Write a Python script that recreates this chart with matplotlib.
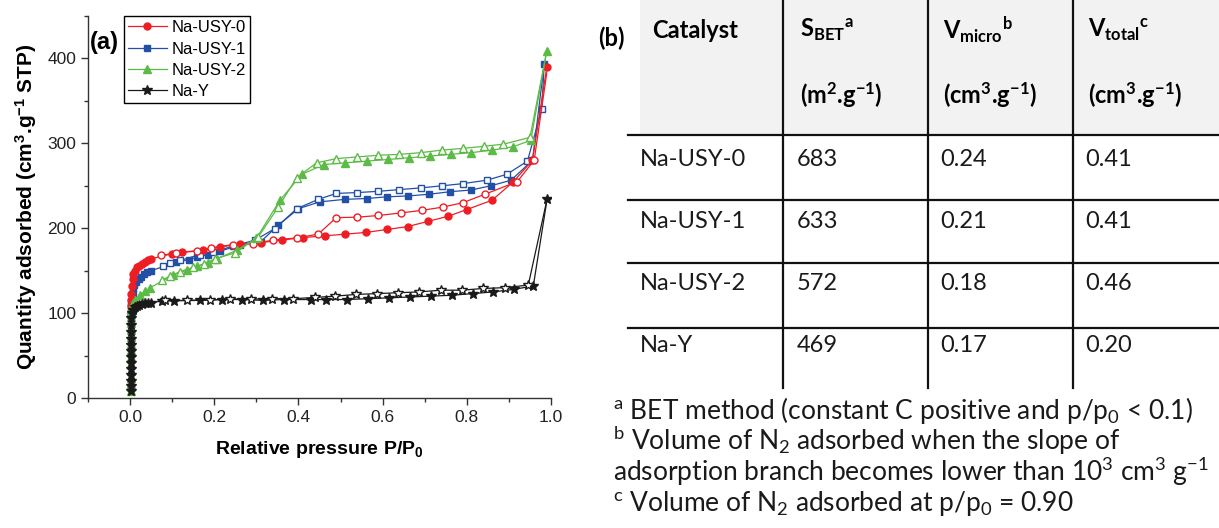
import matplotlib
matplotlib.use('Agg')
import matplotlib.pyplot as plt
from matplotlib.ticker import MultipleLocator
from matplotlib.patches import Rectangle

plt.rcParams['mathtext.default'] = 'regular'

# N2 isotherms: adsorption (filled) and desorption (open)
# Na-USY-0
ads_p0 = [0.001, 0.001, 0.002, 0.003, 0.004, 0.006, 0.008, 0.012, 0.016, 0.022, 0.028, 0.035, 0.042, 0.05,
          0.1, 0.123, 0.174, 0.214, 0.26, 0.31, 0.36, 0.41, 0.463, 0.51, 0.56, 0.61, 0.66, 0.707, 0.755,
          0.80, 0.86, 0.91, 0.956, 0.99]
ads_q0 = [100, 108, 115, 122, 132, 140, 146, 150, 154, 156, 158, 160, 162, 164,
          170, 172, 174, 178, 181, 183, 186, 189, 191, 193, 195, 198.5, 202, 208, 214,
          222, 233, 254.5, 280, 390]
des_p0 = [0.99, 0.96, 0.92, 0.843, 0.79, 0.744, 0.693, 0.643, 0.59, 0.54, 0.49, 0.447, 0.396, 0.34,
          0.293, 0.245, 0.193, 0.158, 0.11, 0.074]
des_q0 = [383, 280, 255, 240, 230, 225, 221, 218, 215, 213, 212.5, 193, 188.6, 186,
          182, 180.8, 177, 173, 171, 168]

# Na-USY-1
ads_p1 = [0.001, 0.001, 0.002, 0.003, 0.004, 0.006, 0.008, 0.01, 0.015, 0.02, 0.026, 0.032, 0.04, 0.05,
          0.11, 0.14, 0.16, 0.186, 0.214, 0.26, 0.31, 0.352, 0.40, 0.45, 0.51, 0.562, 0.61, 0.66, 0.71,
          0.76, 0.81, 0.857, 0.905, 0.956, 0.984]
ads_q1 = [95, 102, 108, 113, 119, 124, 129, 133, 137, 140, 143, 146, 148, 150,
          160, 163, 166, 169, 173, 180, 184, 203.5, 223, 231, 234, 235, 237, 238, 240,
          243, 245, 250, 256.5, 280, 394]
des_p1 = [0.984, 0.978, 0.944, 0.895, 0.847, 0.79, 0.742, 0.69, 0.64, 0.59, 0.54, 0.49, 0.447, 0.396,
          0.344, 0.297, 0.245, 0.198, 0.166, 0.119, 0.095, 0.078]
des_q1 = [394, 340, 279, 263.5, 256.5, 252.5, 250, 247.5, 245.5, 243.5, 242, 241, 234, 223,
          199.6, 186, 179, 172, 169, 162, 159, 156]

# Na-USY-2
ads_p2 = [0.001, 0.001, 0.001, 0.001, 0.001, 0.001, 0.001, 0.001, 0.001, 0.001, 0.0015, 0.002, 0.003,
          0.004, 0.007, 0.012, 0.024, 0.036, 0.048, 0.103, 0.135, 0.158, 0.186, 0.206, 0.253, 0.30,
          0.356, 0.408, 0.46, 0.51, 0.562, 0.613, 0.663, 0.713, 0.762, 0.81, 0.86, 0.91, 0.952, 0.99]
ads_q2 = [8, 16, 24, 32, 40, 48, 56, 64, 72, 80, 88, 96, 103,
          108, 112, 115, 121, 126, 130, 145, 150.6, 155, 159, 164, 174, 188,
          233, 263.5, 275, 277, 279, 281, 283, 285, 287, 289, 292, 296, 303.5, 409]
des_p2 = [0.99, 0.95, 0.887, 0.84, 0.79, 0.74, 0.69, 0.64, 0.59, 0.54, 0.49, 0.443, 0.396, 0.352,
          0.305, 0.25, 0.202, 0.176, 0.15, 0.119, 0.095, 0.075]
des_q2 = [409, 307, 299, 296.5, 294, 292, 289, 287, 286, 284, 282, 277, 259.6, 225,
          190, 171, 164, 158, 154, 149, 143.5, 139]

# Na-Y
ads_p3 = [0.001, 0.001, 0.001, 0.001, 0.001, 0.001, 0.001, 0.001, 0.001, 0.001, 0.001, 0.001,
          0.002, 0.004, 0.008, 0.012, 0.016, 0.02, 0.028, 0.036, 0.043, 0.05, 0.075, 0.105, 0.166,
          0.218, 0.267, 0.315, 0.366, 0.43, 0.465, 0.515, 0.566, 0.616, 0.665, 0.714, 0.764, 0.814,
          0.863, 0.912, 0.958, 0.991]
ads_q3 = [8, 14, 20, 27, 34, 41, 48, 55, 62, 70, 78, 86,
          94, 100, 104, 107, 108.5, 110, 111, 111.5, 112, 112.5, 114, 114.5, 115,
          116, 116, 115, 116, 116, 116, 116, 117, 118, 119, 120, 121, 123,
          125, 128, 132, 235]
des_p3 = [0.991, 0.946, 0.89, 0.838, 0.788, 0.738, 0.687, 0.637, 0.587, 0.537, 0.487, 0.44, 0.388,
          0.337, 0.287, 0.237, 0.19, 0.135, 0.083]
des_q3 = [235, 133, 130, 129, 127, 127, 125, 124, 123, 122, 120, 118.5, 117,
          117, 116.5, 116.5, 115.6, 115, 115]

labels = ['Na-USY-0', 'Na-USY-1', 'Na-USY-2', 'Na-Y']

# table (b)
catalysts = ['Na-USY-0', 'Na-USY-1', 'Na-USY-2', 'Na-Y']
s_bet = ['683', '633', '572', '469']
v_micro = ['0.24', '0.21', '0.18', '0.17']
v_total = ['0.41', '0.41', '0.46', '0.20']

W, H = 1219, 528
fig = plt.figure(figsize=(W / 100, H / 100), dpi=100)

# table first so that it sits behind the plot
tb = fig.add_axes([0, 0, 1, 1])
tb.set_xlim(0, W)
tb.set_ylim(H, 0)
tb.axis('off')
tfont = 'Lato'
tb.add_patch(Rectangle((640, 0), W - 640, 135, color='#f2f2f2', lw=0))
for yy in [135, 200, 263, 328]:
    tb.plot([628, W], [yy, yy], color='#111111', lw=1.6)
for xx in [783, 928, 1073]:
    tb.plot([xx, xx], [0, 388], color='#111111', lw=1.6)
tb.text(598, 38, '(b)', fontsize=17, fontweight='bold', family=tfont, va='center')
head1 = ['Catalyst', 'S$_{BET}$$^{a}$', 'V$_{micro}$$^{b}$', 'V$_{total}$$^{c}$']
head2 = ['', '(m$^2$.g$^{-1}$)', '(cm$^3$.g$^{-1}$)', '(cm$^3$.g$^{-1}$)']
hx = [652, 800, 943, 1088]
for i in range(4):
    tb.text(hx[i], 30, head1[i], fontsize=17, fontweight='bold', family=tfont, va='center')
    tb.text(hx[i], 95, head2[i], fontsize=17, fontweight='bold', family=tfont, va='center')
dx = [640, 797, 940, 1085]
ry = [160, 222, 284, 346]
for r in range(4):
    row = [catalysts[r], s_bet[r], v_micro[r], v_total[r]]
    for i in range(4):
        tb.text(dx[i], ry[r], row[i], fontsize=17, family=tfont, va='center', color='#1a1a1a')
notes = ['$^{a}$ BET method (constant C positive and p/p$_0$ < 0.1)',
         '$^{b}$ Volume of N$_2$ adsorbed when the slope of',
         'adsorption branch becomes lower than 10$^3$ cm$^3$ g$^{-1}$',
         '$^{c}$ Volume of N$_2$ adsorbed at p/p$_0$ = 0.90']
for k, s in enumerate(notes):
    tb.text(613, 410 + k * 31, s, fontsize=19, family=tfont, va='center', color='#1a1a1a')

# isotherm plot (a)
afont = 'Liberation Sans'
ax = fig.add_axes([88 / W, (H - 398) / H, (551 - 88) / W, (398 - 16) / H])
ax.patch.set_alpha(0)
series = [
    (ads_p0, ads_q0, des_p0, des_q0, '#ee1d24', 'o', 5.0, 4),
    (ads_p1, ads_q1, des_p1, des_q1, '#2150a6', 's', 5.0, 3),
    (ads_p2, ads_q2, des_p2, des_q2, '#5cbb46', '^', 6.0, 5),
    (ads_p3, ads_q3, des_p3, des_q3, '#1a1a1a', '*', 7.0, 6),
]
handles = []
for (ap, aq, dp, dq, c, m, ms, z) in series:
    h, = ax.plot(ap, aq, color=c, marker=m, ms=ms, lw=0.9, mfc=c, mec=c, zorder=z)
    # first desorption point is the shared top point, keep it filled
    ax.plot(dp, dq, color=c, marker=m, ms=ms, lw=0.9, mfc='white', mec=c, mew=1.0, zorder=z,
            markevery=slice(1, None))
    handles.append(h)

ax.set_xlim(-0.1, 1.0)
ax.set_ylim(0, 450)
ax.xaxis.set_major_locator(MultipleLocator(0.2))
ax.xaxis.set_minor_locator(MultipleLocator(0.1))
ax.yaxis.set_major_locator(MultipleLocator(100))
ax.yaxis.set_minor_locator(MultipleLocator(50))
ax.spines['top'].set_visible(False)
ax.spines['right'].set_visible(False)
for s in ['left', 'bottom']:
    ax.spines[s].set_color('#333333')
    ax.spines[s].set_linewidth(1.0)
ax.tick_params(which='major', direction='out', length=5, width=1, color='#333333',
               labelsize=12.5, labelcolor='#222222')
ax.tick_params(which='minor', direction='out', length=3, width=1, color='#333333')
for t in ax.get_yticklabels():
    t.set_family(afont)
ax.set_xticks([0.0, 0.2, 0.4, 0.6, 0.8, 1.0])
ax.set_xticklabels(['0.0', '0.2', '0.4', '0.6', '0.8', '1.0'], family=afont)

ax.set_xlabel('Relative pressure P/P$_0$', fontsize=14, fontweight='bold', family=afont, labelpad=10)
ax.set_ylabel('Quantity adsorbed (cm$^3$.g$^{-1}$ STP)', fontsize=15, fontweight='bold',
              family=afont, labelpad=6)

leg = ax.legend(handles, labels, loc='upper left', bbox_to_anchor=(124 / W, 1 - 16 / H),
                bbox_transform=fig.transFigure, fancybox=False, edgecolor='black',
                prop={'family': afont, 'size': 12}, handlelength=2.3, labelspacing=0.38,
                borderpad=0.25, handletextpad=0.3, borderaxespad=0, framealpha=1)
leg.get_frame().set_linewidth(1.0)

fig.text(90 / W, 1 - 42 / H, '(a)', fontsize=17, fontweight='bold', family=afont, va='center')

fig.savefig('out.png', dpi=100)
